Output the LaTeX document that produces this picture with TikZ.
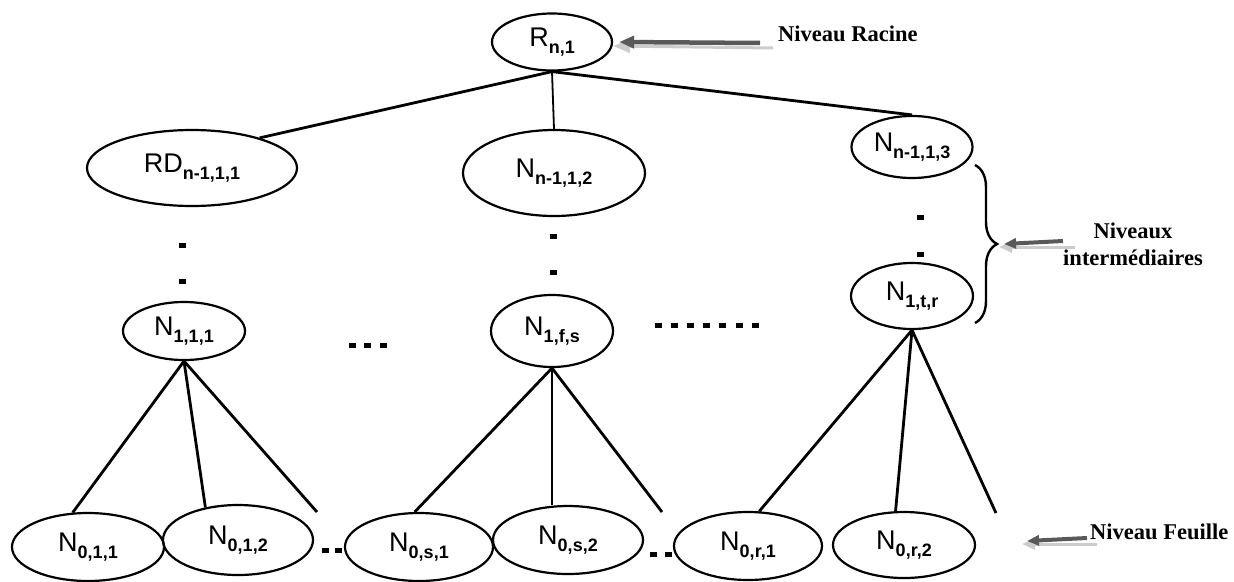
\documentclass[tikz,border=0pt]{standalone}
\usepackage{fontspec}
\setmainfont{Liberation Sans}
\newfontfamily\serifb{Liberation Serif}
\usetikzlibrary{shapes.geometric,decorations.pathreplacing,arrows.meta,calc}
\newcommand{\nd}[2]{#1\raisebox{-7pt}{\fontsize{18}{18}\selectfont\bfseries #2}}
\begin{document}
\begin{tikzpicture}[x=1pt,y=-1pt,
  nodeell/.style={ellipse,draw,line width=2.2pt,inner sep=0pt,font=\fontsize{27}{27}\selectfont},
  edge/.style={line width=2.8pt},
  levtext/.style={font=\serifb\bfseries\fontsize{22.5}{27}\selectfont,inner sep=0pt,align=center},
  arrlight/.style={line width=3pt,gray!40,-{Triangle[length=17pt,width=13pt]}},
  arrdark/.style={line width=4.5pt,gray!70!black,-{Triangle[length=15pt,width=12pt]}},
  arrlights/.style={line width=3pt,gray!40,-{Triangle[length=13pt,width=11pt]}},
  arrdarks/.style={line width=4pt,gray!70!black,-{Triangle[length=12pt,width=10pt]}}]
\useasboundingbox (0,0) rectangle (1234,581);

% nodes
\node[nodeell,minimum width=120pt,minimum height=57pt] (root) at (552,42) {\nd{R}{n,1}};
\node[nodeell,minimum width=210pt,minimum height=76pt] (rd) at (192,168) {\nd{RD}{n-1,1,1}};
\node[nodeell,minimum width=182pt,minimum height=86pt] (n2) at (554,173) {\nd{N}{n-1,1,2}};
\node[nodeell,minimum width=121pt,minimum height=62pt] (n3) at (912,147) {\nd{N}{n-1,1,3}};
\node[nodeell,minimum width=122pt,minimum height=58pt] (a1) at (184,331) {\nd{N}{1,1,1}};
\node[nodeell,minimum width=122pt,minimum height=72pt] (a2) at (552,331) {\nd{N}{1,f,s}};
\node[nodeell,minimum width=122pt,minimum height=66pt] (a3) at (912,296) {\nd{N}{1,t,r}};
\node[nodeell,minimum width=152pt,minimum height=68pt] (l11) at (88,547) {\nd{N}{0,1,1}};
\node[nodeell,minimum width=150pt,minimum height=70pt] (l12) at (238,540) {\nd{N}{0,1,2}};
\node[nodeell,minimum width=148pt,minimum height=68pt] (l21) at (419,547) {\nd{N}{0,s,1}};
\node[nodeell,minimum width=150pt,minimum height=68pt] (l22) at (568,540) {\nd{N}{0,s,2}};
\node[nodeell,minimum width=148pt,minimum height=68pt] (l31) at (748,546) {\nd{N}{0,r,1}};
\node[nodeell,minimum width=142pt,minimum height=66pt] (l32) at (904,545) {\nd{N}{0,r,2}};

% level labels
\node[levtext,anchor=west] (racine) at (778,34) {Niveau Racine};
\node[levtext] (inter) at (1133,244) {Niveaux\\intermédiaires};
\node[levtext,anchor=west] (feuille) at (1090,532) {Niveau Feuille};

% edges
\draw[edge] (root.south) -- (rd.24);
\draw[edge,line width=1.8pt] (root.south) -- (n2.north);
\draw[edge] (root.south) -- (n3.north);
\coordinate (e1) at (317,512);
\coordinate (e2) at (662,512);
\coordinate (e3) at (996,513);
\draw[edge] (a1.south) -- (l11.114);
\draw[edge] (a1.south) -- (l12.135);
\draw[edge] (a1.south) -- (e1);
\draw[edge] (a2.south) -- (l21.97);
\draw[edge] (a2.south) -- (a2.south |- l22.north);
\draw[edge] (a2.south) -- (e2);
\draw[edge] (a3.south) -- (l31.72);
\draw[edge] (a3.south) -- (l32.104);
\draw[edge] (a3.south) -- (e3);

% brace
\coordinate (btop) at (975,165);
\coordinate (bbot) at (975,323);
\coordinate (btip) at (999,244);
\draw[line width=2.4pt,decorate,decoration={brace,amplitude=22pt}] (btop) -- (bbot);

% gray arrows
\coordinate (ra1) at (773,48);
\coordinate (ra2) at (760,43);
\draw[arrlight] (ra1) -- ([yshift=-4pt]root.east);
\draw[arrdark] (ra2) -- ([xshift=6pt]root.east);
\coordinate (ia1) at (1075,247);
\coordinate (ia2) at (1063,241);
\draw[arrlights] (ia1) -- ([yshift=-3pt]btip);
\draw[arrdarks] (ia2) -- ([xshift=5pt]btip);
\coordinate (fa1) at (1097,544);
\coordinate (fa2) at (1087,538);
\coordinate (ftip) at (1022,541);
\draw[arrlights] (fa1) -- ([yshift=-3pt]ftip);
\draw[arrdarks] (fa2) -- ([xshift=5pt]ftip);

% dots
\foreach \x/\y in {182/245,182/281,553/236,553/272,920/217,920/254,352/345,367/345,383/345,325/550,338/550,653/554,668/554}
  \fill (\x-3.5,\y-2.5) rectangle (\x+3.5,\y+2.5);
\foreach \i in {0,...,6}
  \fill ({658+16.2*\i-3.5},322.5) rectangle ({658+16.2*\i+3.5},327.5);
\end{tikzpicture}
\end{document}
